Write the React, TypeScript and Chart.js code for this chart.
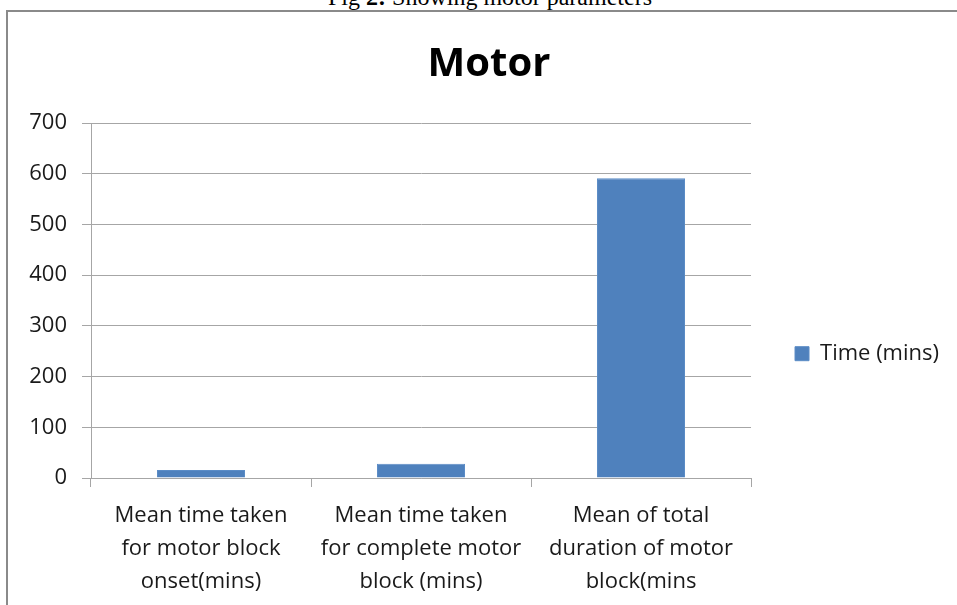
import React, { useEffect, useRef } from "react";
import { Chart, registerables } from "chart.js";

Chart.register(...registerables);

const categories: string[][] = [
  ["Mean time taken", "for motor block", "onset(mins)"],
  ["Mean time taken", "for complete motor", "block (mins)"],
  ["Mean of total", "duration of motor", "block(mins"],
];
const seriesName = "Time (mins)";
const timeValues = [16, 28, 591];
const yMin = 0;
const yMax = 700;
const yStep = 100;
const chartTitle = "Motor";
const captionPre = "Fig ";
const captionNum = "2:";
const captionPost = " Showing motor parameters";

const FONT = "'Open Sans', 'Noto Sans', sans-serif";
const GRID = "#a6a6a6";
const BAR = "#4f81bd";

export default function App() {
  const ref = useRef<HTMLCanvasElement | null>(null);

  useEffect(() => {
    if (!ref.current) return;
    const chart = new Chart(ref.current, {
      type: "bar",
      data: {
        labels: categories,
        datasets: [
          {
            label: seriesName,
            data: timeValues,
            backgroundColor: BAR,
            borderColor: "#5b8cc6",
            borderWidth: 1,
            categoryPercentage: 0.8,
            barPercentage: 0.5,
          },
        ],
      },
      options: {
        responsive: false,
        animation: false,
        devicePixelRatio: 1,
        layout: { padding: { top: 10, right: 8, bottom: 0, left: 29 } },
        plugins: {
          title: {
            display: true,
            text: chartTitle,
            color: "#000",
            font: { family: FONT, size: 40, weight: "bold", lineHeight: 1.2 },
            padding: { top: 31, bottom: 34 },
          },
          legend: {
            display: true,
            position: "right",
            title: {
              display: true,
              text: " ",
              padding: 33,
              font: { family: FONT, size: 22 },
            },
            labels: {
              color: "#1a1a1a",
              font: { family: FONT, size: 22 },
              boxWidth: 14,
              boxHeight: 14,
              padding: 44,
            },
          },
          tooltip: { enabled: false },
        },
        scales: {
          x: {
            offset: true,
            grid: {
              display: true,
              drawOnChartArea: false,
              drawTicks: true,
              tickLength: 9,
              color: GRID,
            },
            border: { display: true, color: GRID, width: 1 },
            ticks: {
              color: "#1a1a1a",
              font: { family: FONT, size: 22, lineHeight: 1.5 },
              padding: 12,
              maxRotation: 0,
              minRotation: 0,
              autoSkip: false,
            },
            afterFit: (scale: any) => {
              scale.height = 127;
            },
          },
          y: {
            min: yMin,
            max: yMax,
            grid: {
              display: true,
              drawOnChartArea: true,
              drawTicks: true,
              tickLength: 9,
              color: GRID,
              lineWidth: 1,
            },
            border: { display: true, color: GRID, width: 1 },
            ticks: {
              stepSize: yStep,
              color: "#1a1a1a",
              font: { family: FONT, size: 22 },
              padding: 15,
            },
            afterFit: (scale: any) => {
              scale.width = 62;
            },
          },
        },
      },
    });
    return () => chart.destroy();
  }, []);

  return (
    <div
      style={{
        position: "fixed",
        left: 0,
        top: 0,
        width: 957,
        height: 605,
        overflow: "hidden",
        background: "#fff",
      }}
    >
      <div
        style={{
          position: "absolute",
          left: 0,
          width: 980,
          top: -15,
          textAlign: "center",
          fontFamily: "'Liberation Serif', 'Times New Roman', serif",
          fontSize: 24,
          lineHeight: "24px",
          color: "#000",
          whiteSpace: "nowrap",
        }}
      >
        {captionPre}
        <b>{captionNum}</b>
        {captionPost}
      </div>
      <div
        style={{
          position: "absolute",
          left: 6,
          top: 10,
          width: 1100,
          height: 800,
          border: "2px solid #8a8a8a",
          boxSizing: "border-box",
        }}
      />
      <canvas
        ref={ref}
        width={957}
        height={605}
        style={{ position: "absolute", left: 0, top: 0, width: 957, height: 605 }}
      />
    </div>
  );
}
